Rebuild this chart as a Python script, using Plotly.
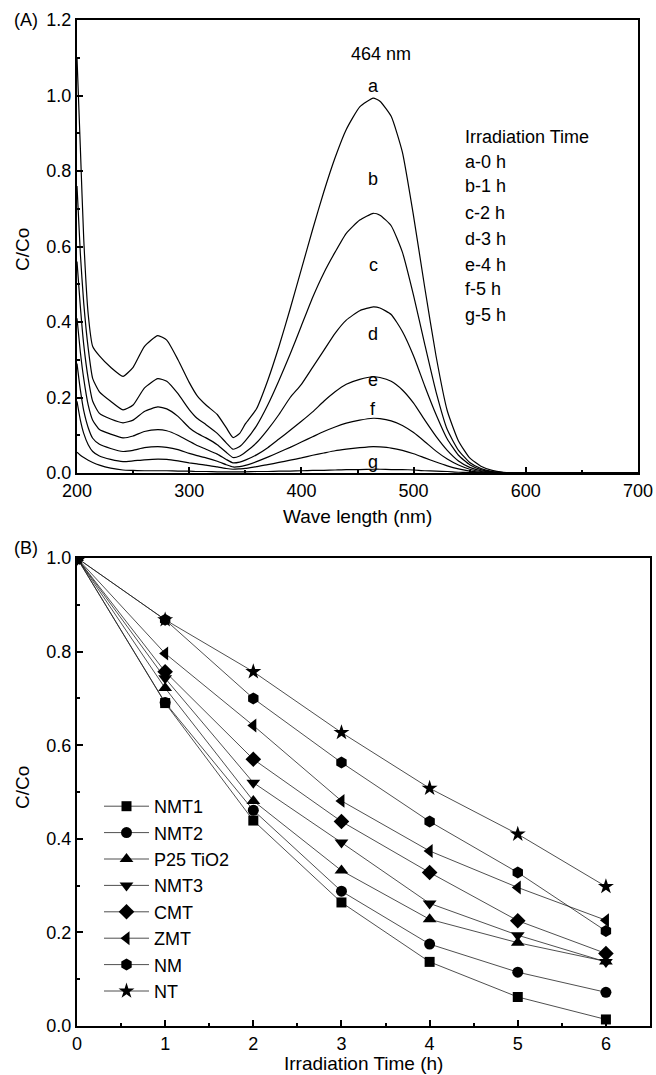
import plotly.graph_objects as go

W, H = 656, 1075
FONT = "Liberation Sans, Arial, sans-serif"

# ---------------- Panel A data (UV-vis spectra) ----------------
wavelength = [200, 203, 206, 210, 214, 220, 230, 241, 250, 260, 272, 280, 290, 300, 307, 315,
              325, 333, 339, 345, 350, 360, 370, 380, 390, 400, 410, 420, 430, 440, 452, 464,
              470, 480, 490, 500, 510, 520, 530, 540, 550, 560, 570, 580, 590, 600, 650, 700]

spec_a = [1.10, 0.86, 0.62, 0.42, 0.335, 0.31, 0.28, 0.256, 0.28, 0.335, 0.364, 0.352, 0.30, 0.24, 0.205, 0.18,
          0.155, 0.12, 0.094, 0.105, 0.13, 0.17, 0.245, 0.335, 0.435, 0.54, 0.645, 0.745, 0.835, 0.91, 0.97, 0.993,
          0.985, 0.945, 0.85, 0.68, 0.49, 0.31, 0.165, 0.085, 0.04, 0.018, 0.007, 0.002, 0.0, 0.0, 0.0, 0.0]
spec_b = [0.76, 0.58, 0.45, 0.33, 0.25, 0.215, 0.19, 0.167, 0.18, 0.225, 0.25, 0.243, 0.21, 0.168, 0.145, 0.128,
          0.105, 0.08, 0.063, 0.07, 0.085, 0.125, 0.18, 0.245, 0.315, 0.39, 0.465, 0.53, 0.585, 0.635, 0.67, 0.688,
          0.683, 0.655, 0.585, 0.47, 0.34, 0.215, 0.115, 0.06, 0.028, 0.012, 0.004, 0.001, 0.0, 0.0, 0.0, 0.0]
spec_c = [0.56, 0.44, 0.34, 0.25, 0.19, 0.158, 0.143, 0.133, 0.14, 0.163, 0.175, 0.17, 0.15, 0.12, 0.105, 0.093,
          0.075, 0.055, 0.041, 0.045, 0.055, 0.08, 0.115, 0.155, 0.20, 0.235, 0.28, 0.325, 0.37, 0.405, 0.43, 0.44,
          0.437, 0.42, 0.375, 0.31, 0.23, 0.155, 0.09, 0.047, 0.022, 0.009, 0.003, 0.001, 0.0, 0.0, 0.0, 0.0]
spec_d = [0.41, 0.32, 0.25, 0.18, 0.14, 0.115, 0.103, 0.093, 0.098, 0.11, 0.115, 0.112, 0.10, 0.084, 0.073, 0.063,
          0.05, 0.036, 0.027, 0.029, 0.034, 0.048, 0.067, 0.09, 0.113, 0.137, 0.162, 0.19, 0.215, 0.235, 0.248, 0.255,
          0.253, 0.243, 0.22, 0.185, 0.14, 0.097, 0.06, 0.032, 0.015, 0.006, 0.002, 0.0, 0.0, 0.0, 0.0, 0.0]
spec_e = [0.29, 0.22, 0.165, 0.12, 0.092, 0.076, 0.065, 0.057, 0.06, 0.067, 0.07, 0.068, 0.062, 0.052, 0.046, 0.04,
          0.031, 0.022, 0.016, 0.017, 0.02, 0.03, 0.042, 0.055, 0.068, 0.082, 0.096, 0.11, 0.122, 0.132, 0.14, 0.145,
          0.144, 0.138, 0.126, 0.107, 0.083, 0.058, 0.037, 0.021, 0.01, 0.004, 0.001, 0.0, 0.0, 0.0, 0.0, 0.0]
spec_f = [0.19, 0.14, 0.105, 0.075, 0.057, 0.045, 0.036, 0.03, 0.032, 0.035, 0.037, 0.036, 0.032, 0.027, 0.024, 0.021,
          0.016, 0.012, 0.01, 0.011, 0.012, 0.017, 0.022, 0.028, 0.034, 0.04, 0.047, 0.053, 0.059, 0.063, 0.067, 0.07,
          0.069, 0.066, 0.06, 0.051, 0.04, 0.029, 0.019, 0.011, 0.005, 0.002, 0.001, 0.0, 0.0, 0.0, 0.0, 0.0]
spec_g = [0.055, 0.047, 0.041, 0.034, 0.028, 0.021, 0.013, 0.008, 0.007, 0.006, 0.006, 0.006, 0.005, 0.005, 0.004, 0.004,
          0.003, 0.003, 0.003, 0.003, 0.003, 0.004, 0.004, 0.005, 0.005, 0.006, 0.007, 0.007, 0.008, 0.009, 0.009, 0.01,
          0.01, 0.009, 0.009, 0.008, 0.006, 0.005, 0.004, 0.002, 0.001, 0.001, 0.0, 0.0, 0.0, 0.0, 0.0, 0.0]

spectra = [spec_a, spec_b, spec_c, spec_d, spec_e, spec_f, spec_g]
curve_letters = ["a", "b", "c", "d", "e", "f", "g"]
letter_y = [1.025, 0.778, 0.552, 0.369, 0.247, 0.17, 0.029]
time_labels = ["Irradiation Time", "a-0 h", "b-1 h", "c-2 h", "d-3 h", "e-4 h", "f-5 h", "g-5 h"]
time_label_y = [0.889, 0.823, 0.759, 0.690, 0.621, 0.552, 0.488, 0.419]

# ---------------- Panel B data (kinetics) ----------------
time_h = [0, 1, 2, 3, 4, 5, 6]
series_names = ["NMT1", "NMT2", "P25 TiO2", "NMT3", "CMT", "ZMT", "NM", "NT"]
NMT1 = [1.0, 0.69, 0.439, 0.264, 0.137, 0.062, 0.014]
NMT2 = [1.0, 0.691, 0.461, 0.288, 0.175, 0.115, 0.072]
P25 = [1.0, 0.722, 0.481, 0.332, 0.228, 0.178, 0.138]
NMT3 = [1.0, 0.743, 0.52, 0.392, 0.262, 0.194, 0.137]
CMT = [1.0, 0.757, 0.57, 0.437, 0.328, 0.225, 0.155]
ZMT = [1.0, 0.796, 0.642, 0.481, 0.374, 0.296, 0.226]
NM = [1.0, 0.868, 0.70, 0.563, 0.437, 0.328, 0.203]
NT = [1.0, 0.868, 0.757, 0.627, 0.508, 0.41, 0.298]
series_values = [NMT1, NMT2, P25, NMT3, CMT, ZMT, NM, NT]
symbols = ["square", "circle", "triangle-up", "triangle-down", "diamond", "triangle-left", "hexagon", "star"]
sizes = [10, 11, 12, 12, 12, 12, 12, 12]

fig = go.Figure()

for ys in spectra:
    fig.add_trace(go.Scatter(x=wavelength, y=ys, mode="lines", xaxis="x", yaxis="y",
                             line=dict(color="black", width=1.2, shape="spline", smoothing=0.5),
                             showlegend=False, hoverinfo="skip"))

for name, vals, sym, sz in zip(series_names, series_values, symbols, sizes):
    fig.add_trace(go.Scatter(x=time_h, y=vals, mode="lines+markers", name=name,
                             xaxis="x2", yaxis="y2",
                             line=dict(color="#222222", width=0.8),
                             marker=dict(symbol=sym, size=sz, color="black", line=dict(width=0))))

# plot area in pixels: x 77..650, y 20..1026
ML, MR, MT, MB = 77, 6, 20, 49
PW, PH = W - ML - MR, H - MT - MB

def px(x):
    return (x - ML) / PW

def py(y):
    return (H - MB - y) / PH

axis_common = dict(showline=True, linecolor="black", linewidth=2, mirror=True,
                   ticks="inside", ticklen=6, tickwidth=1.5, tickcolor="black",
                   showgrid=False, zeroline=False,
                   tickfont=dict(family=FONT, size=18, color="black"))

fig.update_layout(
    width=W, height=H,
    margin=dict(l=ML, r=MR, t=MT, b=MB, pad=0),
    paper_bgcolor="white", plot_bgcolor="white",
    font=dict(family=FONT, size=18, color="black"),
    xaxis=dict(domain=[px(77), px(638)], range=[200, 700], dtick=100, tick0=200,
               minor=dict(dtick=50, ticks="inside", ticklen=3),
               anchor="y", automargin="bottom", **axis_common),
    yaxis=dict(domain=[py(473), py(20)], range=[0, 1.2], dtick=0.2, tick0=0, tickformat=".1f",
               minor=dict(dtick=0.1, ticks="inside", ticklen=3),
               anchor="x", automargin="left", **axis_common),
    xaxis2=dict(domain=[px(77), px(650)], range=[0, 6.5], dtick=1, tick0=0,
                minor=dict(dtick=0.5, ticks="inside", ticklen=3),
                anchor="y2", automargin="bottom", **axis_common),
    yaxis2=dict(domain=[py(1026), py(558)], range=[0, 1.0], dtick=0.2, tick0=0, tickformat=".1f",
                minor=dict(dtick=0.1, ticks="inside", ticklen=3),
                anchor="x2", automargin="left", **axis_common),
    legend=dict(x=px(99), y=py(788), xanchor="left", yanchor="top",
                font=dict(family=FONT, size=18, color="black"),
                bgcolor="rgba(0,0,0,0)", borderwidth=0, itemwidth=45, tracegroupgap=0),
)

ann = []
for letter, yv in zip(curve_letters, letter_y):
    ann.append(dict(x=464, y=yv, xref="x", yref="y", text=letter, showarrow=False,
                    xanchor="center", yanchor="middle",
                    font=dict(family=FONT, size=18, color="black")))
ann.append(dict(x=471, y=1.11, xref="x", yref="y", text="464 nm", showarrow=False,
                xanchor="center", yanchor="middle",
                font=dict(family=FONT, size=18, color="black")))
for t, yv in zip(time_labels, time_label_y):
    ann.append(dict(x=544, y=yv, xref="x", yref="y", text=t, showarrow=False,
                    xanchor="left", yanchor="middle",
                    font=dict(family=FONT, size=18, color="black")))

def paper_text(x, y, text, size, angle=0):
    return dict(x=px(x), y=py(y), xref="paper", yref="paper", text=text, textangle=angle,
                showarrow=False, xanchor="center", yanchor="middle",
                font=dict(family=FONT, size=size, color="black"))

ann.append(paper_text(26, 20, "(A)", 18))
ann.append(paper_text(26, 548, "(B)", 18))
ann.append(paper_text(22, 250, "C/Co", 19, -90))
ann.append(paper_text(22, 788, "C/Co", 19, -90))
ann.append(paper_text(357, 516, "Wave length (nm)", 19))
ann.append(paper_text(363, 1063, "Irradiation Time (h)", 19))
fig.update_layout(annotations=ann)

fig.write_html("out.html", config={"displayModeBar": False},
               post_script="document.body.style.margin='0';document.body.style.overflow='hidden';")
